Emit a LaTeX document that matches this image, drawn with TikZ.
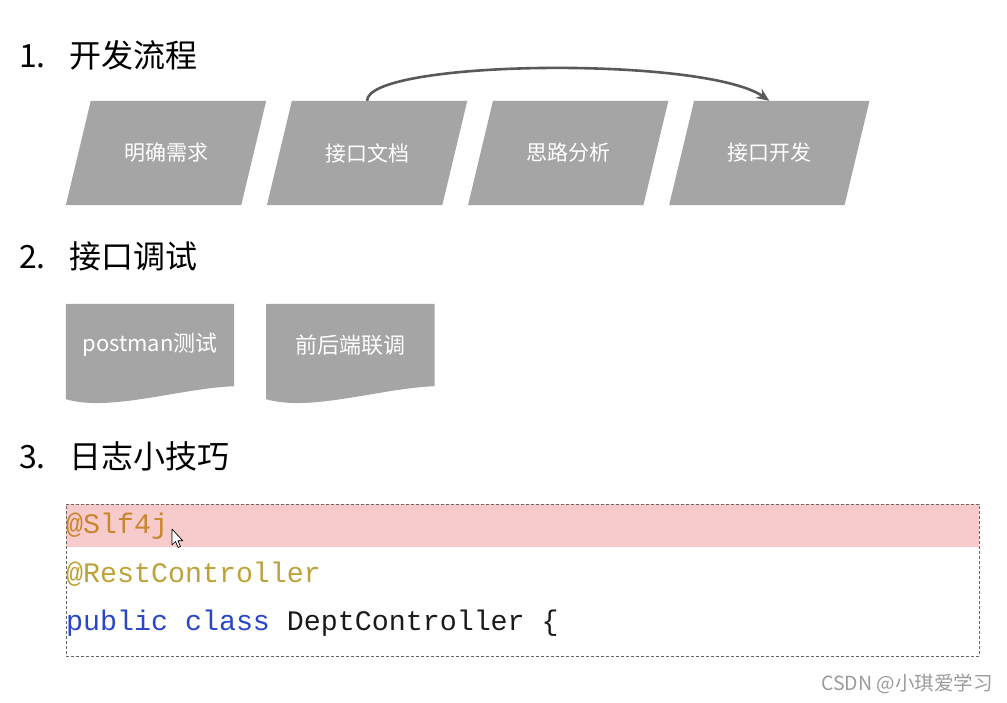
\documentclass[tikz,border=0pt]{standalone}
\usepackage{fontspec}
\setmainfont{Noto Sans CJK SC}
\setmonofont{Liberation Mono}
\usepackage{xcolor}
\usepackage{tikz}
\usetikzlibrary{arrows.meta,positioning,backgrounds}
\definecolor{boxgray}{HTML}{A5A5A5}
\definecolor{arrowgray}{HTML}{595959}
\definecolor{hlpink}{HTML}{F7CBCB}
\definecolor{annoorange}{HTML}{C8862F}
\definecolor{annogold}{HTML}{BDA23A}
\definecolor{kwblue}{HTML}{2A46C8}
\definecolor{codeblack}{HTML}{1A1A1A}
\definecolor{wmgray}{HTML}{9A9A9A}
\newcommand{\fs}[1]{\fontsize{#1}{#1}\selectfont}

\begin{document}
\begin{tikzpicture}[x=1pt,y=-1pt,node distance=.7pt,every node/.style={inner sep=0pt},
  title/.style={anchor=west,font=\fs{32}},
  flow/.style={text=white,font=\fs{21},minimum width=200pt,minimum height=104pt},
  doc/.style={text=white,font=\fs{22},minimum width=168pt,minimum height=82pt},
  codeline/.style={anchor=base west,font=\ttfamily\fs{28.3}},
  a/.style={-{Stealth[length=13pt,width=11pt]},draw=arrowgray,line width=2.6pt}]
  \useasboundingbox (0,0) rectangle (1007,703);
  % 1. flow
  \node[title] (t1) at (19,55.5) {1.\hspace{.75em}开发流程};
  \node[flow] (b1) at (166,153) {明确需求};
  \node[flow,right=of b1] (b2) {接口文档};
  \node[flow,right=of b2] (b3) {思路分析};
  \node[flow,right=of b3] (b4) {接口开发};
  \draw[a] (b2.north) .. controls +(0,-41) and +(-65,-45) .. (b4.north);
  % 2. debugging
  \node[title] (t2) at (19,256) {2.\hspace{.75em}接口调试};
  \node[doc] (pm) at (150,345) {postman测试};
  \node[doc,right=32pt of pm] (fe) {前后端联调};
  % 3. logging
  \node[title] (t3) at (19,456) {3.\hspace{.75em}日志小技巧};
  \node[draw=gray!80!black,dash pattern=on 3pt off 2pt,line width=.8pt,minimum width=913pt,minimum height=152pt] (cbox) at (522.5,580) {};
  \node[codeline,text=annoorange] (slf) at (66,533) {@Slf4j};
  \node[codeline,text=annogold] (rest) at (66,582) {@RestController};
  \node[codeline,text=codeblack] (cls) at (66,630) {\textcolor{kwblue}{public class} DeptController \{};
  \draw[fill=white,line width=.7pt,line join=round] (172,529) -- ++(0,16) -- ++(3.5,-3.5) -- ++(2.6,6) -- ++(2.4,-1) -- ++(-2.6,-5.8) -- ++(4.8,0) -- cycle;
  \node[anchor=east,text=wmgray,font=\fs{19.5}] (wm) at (993,684) {CSDN @小琪爱学习};
  \begin{scope}[on background layer]
    \foreach \n in {b1,b2,b3,b4}
      \fill[boxgray] ([xshift=25pt]\n.north west) -- (\n.north east) -- ([xshift=-25pt]\n.south east) -- (\n.south west) -- cycle;
    \foreach \n in {pm,fe}
      \fill[boxgray] (\n.north west) -- (\n.north east) -- (\n.south east)
        .. controls +(-54,2) and +(44,13) .. ([yshift=-13pt]\n.south west) -- cycle;
    \fill[hlpink] ([xshift=.5pt,yshift=-.5pt]cbox.north west) rectangle ([xshift=-.5pt,yshift=-43pt]cbox.north east);
  \end{scope}
\end{tikzpicture}
\end{document}
